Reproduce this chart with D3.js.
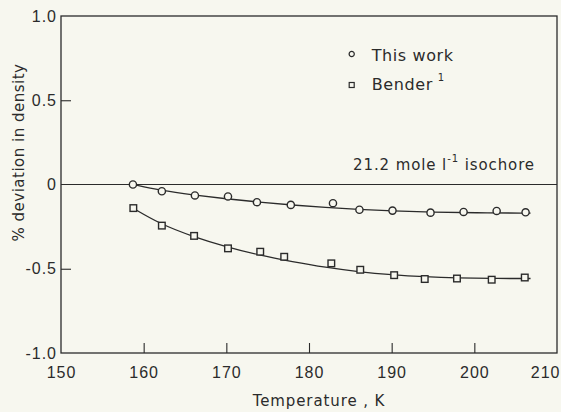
<!DOCTYPE html>
<html>
<head>
<meta charset="utf-8">
<script src="https://cdn.jsdelivr.net/npm/d3@7"></script>
<style>
  body { margin: 0; background: #f7f7ef; }
  svg { display: block; font-family: "DejaVu Sans", sans-serif; }
</style>
</head>
<body>
<div class="chart"></div>
<script>
// data
var thisWorkT = [158.7, 162.2, 166.2, 170.2, 173.7, 177.8, 182.9, 186.1, 190.1, 194.7, 198.7, 202.7, 206.2];
var thisWorkDev = [0.0, -0.040, -0.065, -0.071, -0.105, -0.121, -0.111, -0.150, -0.155, -0.167, -0.163, -0.157, -0.165];

var benderT = [158.75, 162.2, 166.1, 170.2, 174.1, 177.0, 182.7, 186.2, 190.3, 194.0, 197.9, 202.1, 206.1];
var benderDev = [-0.14, -0.244, -0.305, -0.379, -0.399, -0.429, -0.468, -0.506, -0.538, -0.561, -0.558, -0.565, -0.552];

// smooth curves drawn through each set
var fitUpperT = [158.7, 162, 166, 170, 174, 178, 182, 186, 190, 195, 200, 206.8];
var fitUpperDev = [0.0, -0.035, -0.062, -0.085, -0.105, -0.122, -0.137, -0.148, -0.157, -0.164, -0.168, -0.170];
var fitLowerT = [158.7, 162, 166, 170, 174, 178, 182, 186, 190, 194, 198, 202, 206.8];
var fitLowerDev = [-0.14, -0.235, -0.31, -0.37, -0.42, -0.458, -0.492, -0.518, -0.536, -0.548, -0.555, -0.558, -0.558];

var xTicks = [150, 160, 170, 180, 190, 200, 210];
var yTicks = [1.0, 0.5, 0, -0.5, -1.0];
var yTickLabels = ["1.0", "0.5", "0", "-0.5", "-1.0"];

var width = 561, height = 412;
var margin = {left: 61, top: 16, right: 4, bottom: 59};
var w = width - margin.left - margin.right;
var h = height - margin.top - margin.bottom;
var ink = "#2b2b2b";

const svg = d3.select(".chart")
              .append("svg")
              .attr("width", width)
              .attr("height", height)
              .append("g")
              .attr("transform", "translate(" + margin.left + "," + margin.top + ")");

const x = d3.scaleLinear().domain([150, 210]).range([0, w]);
const y = d3.scaleLinear().domain([-1, 1]).range([h, 0]);

// frame
svg.append("rect")
   .attr("width", w).attr("height", h)
   .attr("fill", "none").attr("stroke", ink).attr("stroke-width", 1.3);

// zero line
svg.append("line")
   .attr("x1", 0).attr("x2", w)
   .attr("y1", y(0)).attr("y2", y(0))
   .attr("stroke", ink).attr("stroke-width", 1.1);

// axes
const xAxis = d3.axisBottom(x).tickValues(xTicks).tickSize(-10).tickPadding(14)
                .tickFormat(d3.format("d"));
const gx = svg.append("g").attr("transform", "translate(0," + h + ")").call(xAxis);

const yAxis = d3.axisLeft(y).tickValues(yTicks).tickSize(-10).tickPadding(4)
                .tickFormat((d, i) => yTickLabels[i]);
const gy = svg.append("g").call(yAxis);

[gx, gy].forEach(g => {
  g.select(".domain").remove();
  g.selectAll(".tick line").attr("stroke", ink).attr("stroke-width", 1.1);
  g.selectAll(".tick text").attr("fill", ink)
   .style("font-size", "16px").style("letter-spacing", "1px");
});
gx.selectAll(".tick line").filter(d => d === 150 || d === 210).remove();
gy.selectAll(".tick line").filter(d => d === 1 || d === -1 || d === 0).remove();
// last label sits flush with the frame
gx.selectAll(".tick text").filter(d => d === 210)
  .attr("text-anchor", "end").attr("x", 3);

// axis titles
svg.append("text")
   .attr("x", x(180) + 10).attr("y", h + 53)
   .attr("text-anchor", "middle")
   .attr("fill", ink)
   .style("font-size", "15px").style("letter-spacing", "0.9px")
   .text("Temperature , K");

svg.append("text")
   .attr("transform", "translate(" + (-37) + "," + (y(0) - 32) + ") rotate(-90)")
   .attr("text-anchor", "middle")
   .attr("fill", ink)
   .style("font-size", "15px").style("letter-spacing", "0.5px")
   .text("% deviation in density");

// fitted curves
const line = d3.line().x(d => x(d[0])).y(d => y(d[1])).curve(d3.curveBasis);
svg.append("path")
   .datum(fitUpperT.map((t, i) => [t, fitUpperDev[i]]))
   .attr("d", line).attr("fill", "none").attr("stroke", ink).attr("stroke-width", 1.3);
svg.append("path")
   .datum(fitLowerT.map((t, i) => [t, fitLowerDev[i]]))
   .attr("d", line).attr("fill", "none").attr("stroke", ink).attr("stroke-width", 1.3);

// points
svg.append("g").selectAll("circle")
   .data(thisWorkT)
   .enter().append("circle")
   .attr("cx", d => x(d))
   .attr("cy", (d, i) => y(thisWorkDev[i]))
   .attr("r", 3.6)
   .attr("fill", "#f7f7ef").attr("stroke", ink).attr("stroke-width", 1.4);

svg.append("g").selectAll("rect")
   .data(benderT)
   .enter().append("rect")
   .attr("x", d => x(d) - 3.3)
   .attr("y", (d, i) => y(benderDev[i]) - 3.3)
   .attr("width", 6.6).attr("height", 6.6)
   .attr("fill", "#f7f7ef").attr("stroke", ink).attr("stroke-width", 1.4);

// legend
var legend = svg.append("g").attr("transform", "translate(" + (351.7 - margin.left) + "," + (54 - margin.top) + ")");
legend.append("circle").attr("cx", 0).attr("cy", 0).attr("r", 2.6)
      .attr("fill", "none").attr("stroke", ink).attr("stroke-width", 1.2);
legend.append("text").attr("x", 20).attr("y", 6.5).attr("fill", ink)
      .style("font-size", "16px").style("letter-spacing", "0.6px")
      .text("This work");
legend.append("rect").attr("x", -2.5).attr("y", 28.5).attr("width", 5).attr("height", 5)
      .attr("fill", "none").attr("stroke", ink).attr("stroke-width", 1.2);
var bt = legend.append("text").attr("x", 20).attr("y", 35.5).attr("fill", ink)
      .style("font-size", "16px").style("letter-spacing", "0.6px");
bt.append("tspan").text("Bender");
bt.append("tspan").attr("dx", 5).attr("dy", -9).style("font-size", "10px").text("1");

var iso = svg.append("text")
   .attr("x", 353 - margin.left).attr("y", 170 - margin.top)
   .attr("fill", ink)
   .style("font-size", "15px").style("letter-spacing", "0.9px");
iso.append("tspan").text("21.2 mole l");
iso.append("tspan").attr("dy", -8).style("font-size", "10px").text("-1");
iso.append("tspan").attr("dy", 8).text(" isochore");
</script>
</body>
</html>
